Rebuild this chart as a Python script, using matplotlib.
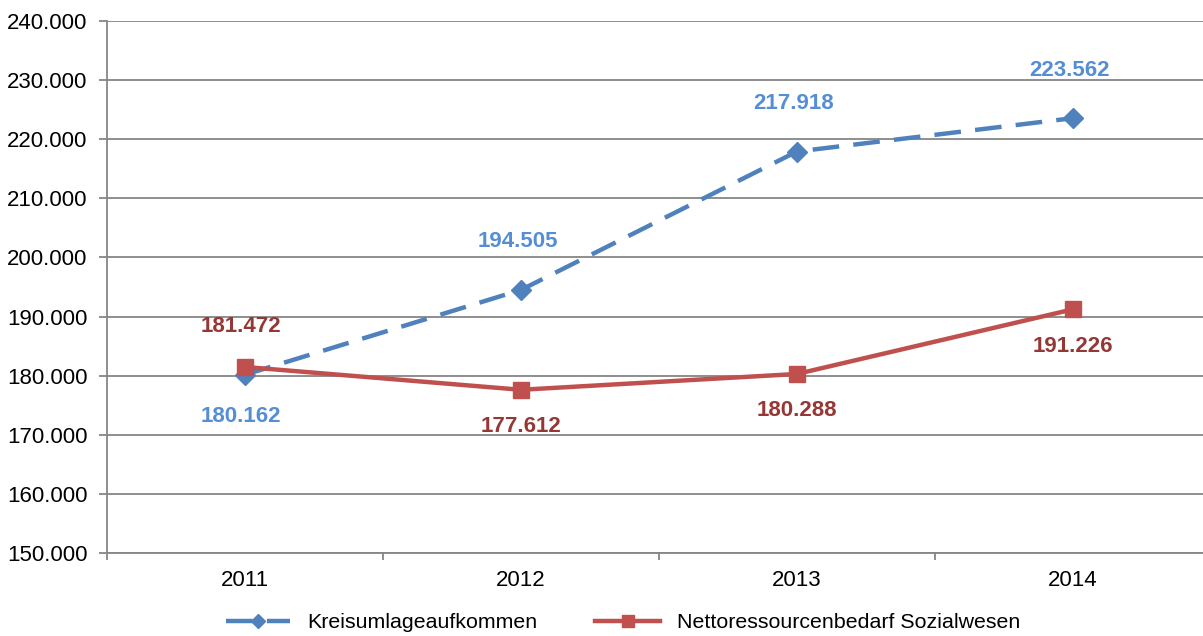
import matplotlib.pyplot as plt
from matplotlib.ticker import FuncFormatter, FixedLocator

plt.rcParams["font.family"] = ["Liberation Sans", "DejaVu Sans"]

# Data (Tsd. EUR)
years = ["2011", "2012", "2013", "2014"]
kreisumlage = [180162, 194505, 217918, 223562]
netto_sozial = [181472, 177612, 180288, 191226]


def de_fmt(v, pos=None):
    return f"{int(round(v)):,}".replace(",", ".")


fig = plt.figure(figsize=(12.03, 6.36), dpi=100)
ax = fig.add_axes([0.0889, 0.1305, 0.9177, 0.8365])

x = range(1, len(years) + 1)
blue = "#4F81BD"
red = "#C0504D"

ax.plot(x, kreisumlage, color=blue, lw=3.2, dashes=(6, 3.2),
        marker="D", ms=10, mfc=blue, mec=blue, label="Kreisumlageaufkommen",
        zorder=3)
ax.plot(x, netto_sozial, color=red, lw=3.2, marker="s", ms=11,
        mfc=red, mec=red, label="Nettoressourcenbedarf Sozialwesen", zorder=3)

# data labels: blue above (first below), red below (first above)
for i, (xi, v) in enumerate(zip(x, kreisumlage)):
    off = -42 if i == 0 else 48
    ax.annotate(de_fmt(v), (xi, v), xytext=(-4 if i == 0 else -3, off),
                textcoords="offset pixels", ha="center", va="center",
                fontsize=16, fontweight="bold", color="#558ED5")
for i, (xi, v) in enumerate(zip(x, netto_sozial)):
    off = 40 if i == 0 else -37
    ax.annotate(de_fmt(v), (xi, v), xytext=(-4 if i == 0 else 0, off),
                textcoords="offset pixels", ha="center", va="center",
                fontsize=16, fontweight="bold", color="#953735")

ax.set_xlim(0.5, 4.5)
ax.set_ylim(150000, 240000)
ax.set_yticks(range(150000, 240001, 10000))
ax.yaxis.set_major_formatter(FuncFormatter(de_fmt))
ax.set_xticks(list(x))
ax.set_xticklabels(years)
ax.xaxis.set_minor_locator(FixedLocator([0.5, 1.5, 2.5, 3.5]))

ax.grid(axis="y", color="#868686", lw=1.3)
ax.set_axisbelow(True)
for s in ["top", "right"]:
    ax.spines[s].set_visible(False)
for s in ["left", "bottom"]:
    ax.spines[s].set_color("#868686")
    ax.spines[s].set_linewidth(1.3)

ax.tick_params(axis="y", which="major", length=6, width=1.3, color="#868686",
               labelsize=16, pad=8)
ax.tick_params(axis="x", which="major", length=0, labelsize=16, pad=12)
ax.tick_params(axis="x", which="minor", length=5, width=1.3, color="#868686")

fig.legend(loc="center", bbox_to_anchor=(0.518, 0.021), ncol=2, frameon=False,
           fontsize=15.4, handlelength=3.0, columnspacing=2.7, handletextpad=0.8,
           markerscale=0.75)

plt.savefig("out.png", dpi=100)
